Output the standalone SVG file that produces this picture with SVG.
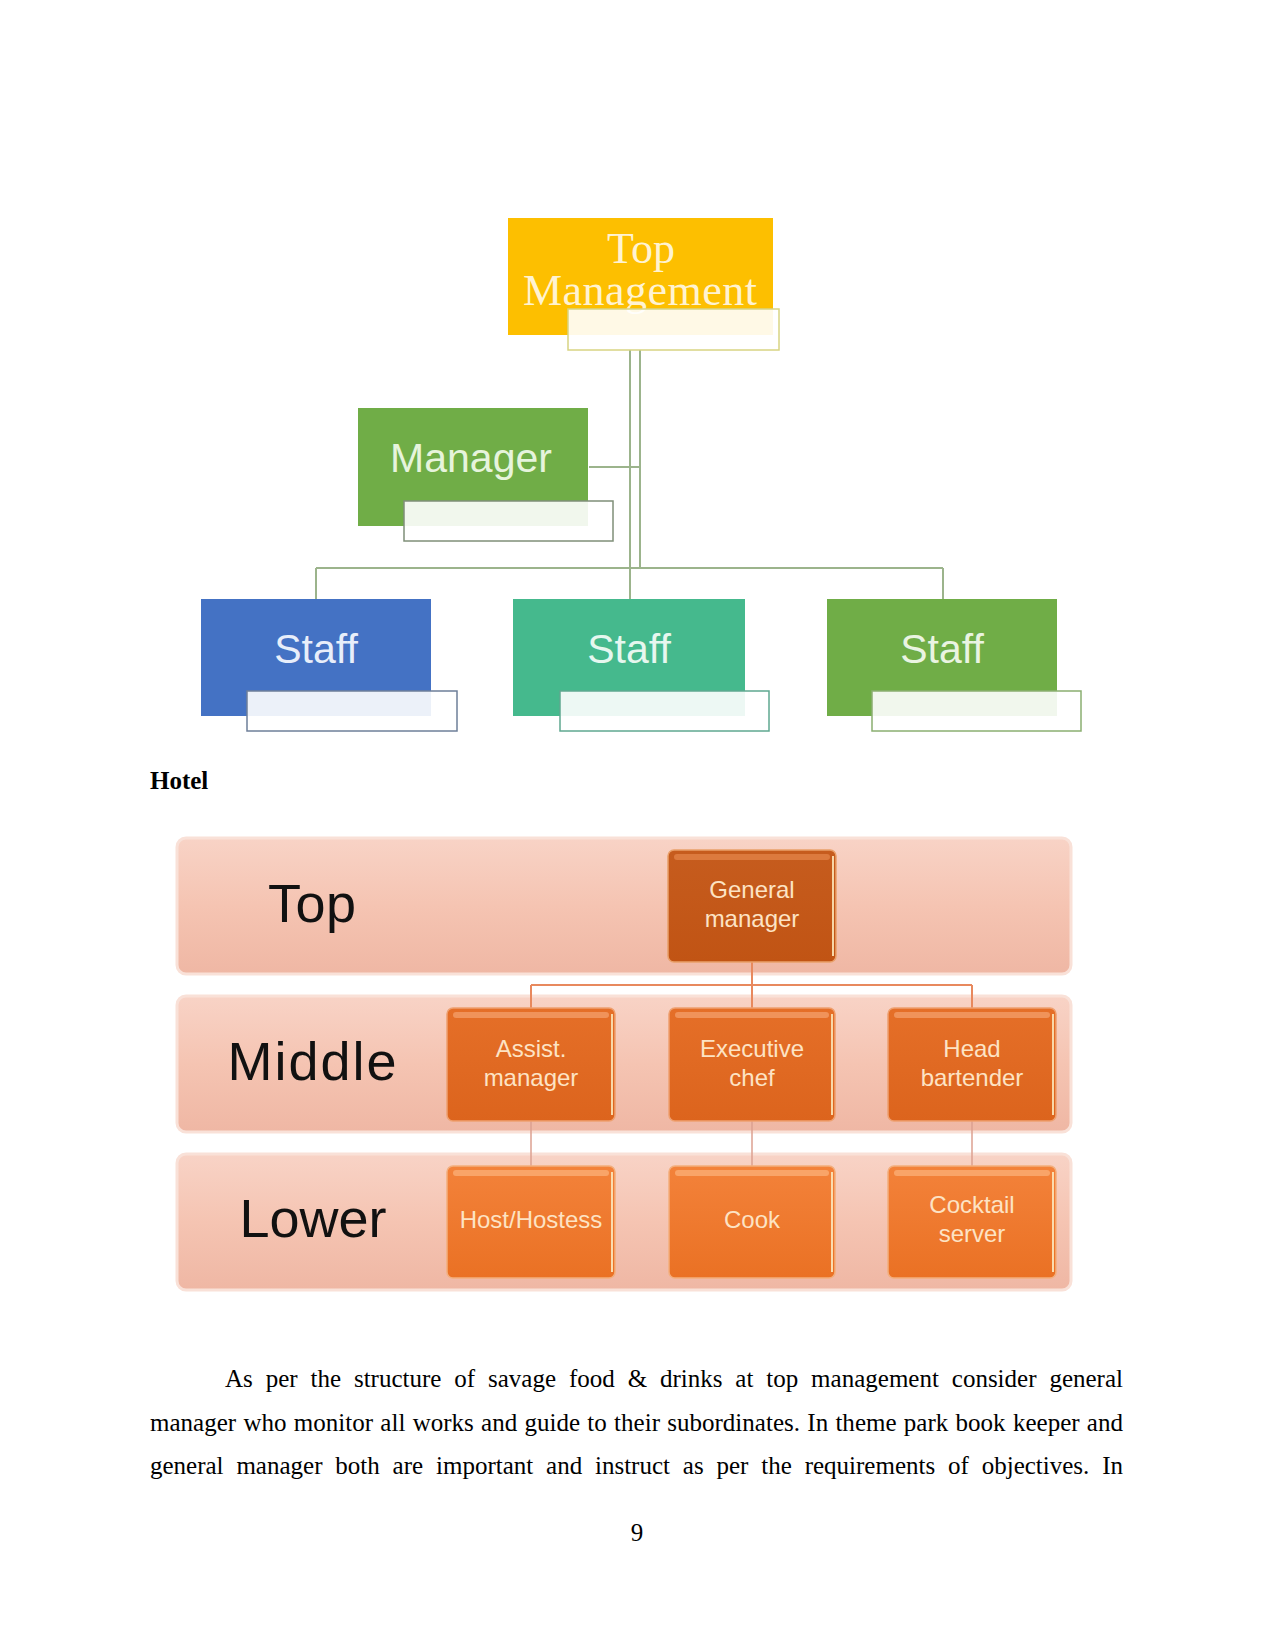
<svg xmlns="http://www.w3.org/2000/svg" width="1275" height="1650" viewBox="0 0 1275 1650">
<style>
.conn{stroke:#9cb48c;stroke-width:2;fill:none}
.hconn{stroke:#e8895e;stroke-width:2;fill:none}
.hconn2{stroke:#dca090;stroke-width:1.5;fill:none}
.ov{fill:#ffffff;fill-opacity:0.9;stroke-width:1.5}
.lbl{font-family:"Liberation Sans",Arial,sans-serif;text-anchor:middle}
.serif{font-family:"Liberation Serif","Times New Roman",serif}
.ob{font-family:"Liberation Sans",Arial,sans-serif;font-size:24px;fill:#fde3c4;text-anchor:middle}
.lvl{font-family:"Liberation Sans",Arial,sans-serif;font-size:54px;fill:#111111;text-anchor:middle}
.body{font-family:"Liberation Serif","Times New Roman",serif;font-size:25px;fill:#000000}
</style>
<defs>
<linearGradient id="band" x1="0" y1="0" x2="0" y2="1">
<stop offset="0" stop-color="#f8d3c6"/>
<stop offset="0.5" stop-color="#f5c4b2"/>
<stop offset="1" stop-color="#efb7a4"/>
</linearGradient>
<linearGradient id="gmg" x1="0" y1="0" x2="0" y2="1">
<stop offset="0" stop-color="#c65c1e"/>
<stop offset="1" stop-color="#c15414"/>
</linearGradient>
<linearGradient id="midg" x1="0" y1="0" x2="0" y2="1">
<stop offset="0" stop-color="#e56f28"/>
<stop offset="1" stop-color="#dc641d"/>
</linearGradient>
<linearGradient id="lowg" x1="0" y1="0" x2="0" y2="1">
<stop offset="0" stop-color="#f3823a"/>
<stop offset="1" stop-color="#ea7124"/>
</linearGradient>
</defs>
<rect width="1275" height="1650" fill="#ffffff"/>

<!-- Top chart connectors -->
<g id="connectors-top">
<line class="conn" x1="630" y1="350" x2="630" y2="599"/>
<line class="conn" x1="640" y1="350" x2="640" y2="568"/>
<line class="conn" x1="589" y1="467" x2="640" y2="467"/>
<line class="conn" x1="316" y1="568" x2="943" y2="568"/>
<line class="conn" x1="316" y1="568" x2="316" y2="599"/>
<line class="conn" x1="943" y1="568" x2="943" y2="599"/>
</g>

<g id="top-management">
<rect x="508" y="218" width="265" height="117" fill="#fdbf00"/>
<text class="serif" fill="#fff3d2" text-anchor="middle"><tspan x="641" y="263" font-size="44">Top</tspan><tspan x="640" y="305" font-size="44" textLength="234">Management</tspan></text>
<rect class="ov" x="568" y="309" width="211" height="41" stroke="#d8d482"/>
</g>

<g id="manager">
<rect x="358" y="408" width="230" height="118" fill="#70ad47"/>
<text class="lbl" x="471" y="472" font-size="41" fill="#e6f4dc">Manager</text>
<rect class="ov" x="404" y="501" width="209" height="40" stroke="#7f8f78"/>
</g>

<g id="staff-1">
<rect x="201" y="599" width="230" height="117" fill="#4472c4"/>
<text class="lbl" x="316" y="663" font-size="41" fill="#e8eefa">Staff</text>
<rect class="ov" x="247" y="691" width="210" height="40" stroke="#6e7f99"/>
</g>

<g id="staff-2">
<rect x="513" y="599" width="232" height="117" fill="#45b98d"/>
<text class="lbl" x="629" y="663" font-size="41" fill="#e6f7ef">Staff</text>
<rect class="ov" x="560" y="691" width="209" height="40" stroke="#5fa890"/>
</g>

<g id="staff-3">
<rect x="827" y="599" width="230" height="117" fill="#70ad47"/>
<text class="lbl" x="942" y="663" font-size="41" fill="#eaf4e2">Staff</text>
<rect class="ov" x="872" y="691" width="209" height="40" stroke="#8aaf70"/>
</g>

<text id="hotel-label" class="serif" x="150" y="789" font-size="25" font-weight="bold" fill="#000000">Hotel</text>

<!-- Hotel bands -->
<g id="band-top">
<rect x="177" y="838" width="894" height="136" rx="9" fill="url(#band)" stroke="#f9e1d8" stroke-width="3"/>
<text class="lvl" x="312" y="922" textLength="88">Top</text>
</g>
<g id="band-middle">
<rect x="177" y="996" width="894" height="136" rx="9" fill="url(#band)" stroke="#f9e1d8" stroke-width="3"/>
<text class="lvl" x="312" y="1080" textLength="169">Middle</text>
</g>
<g id="band-lower">
<rect x="177" y="1154" width="894" height="136" rx="9" fill="url(#band)" stroke="#f9e1d8" stroke-width="3"/>
<text class="lvl" x="313" y="1237" textLength="147">Lower</text>
</g>

<!-- Hotel connectors -->
<g id="connectors-hotel">
<line class="hconn" x1="752" y1="962" x2="752" y2="1008"/>
<line class="hconn" x1="531" y1="985" x2="972" y2="985"/>
<line class="hconn" x1="531" y1="985" x2="531" y2="1008"/>
<line class="hconn" x1="972" y1="985" x2="972" y2="1008"/>
<line class="hconn2" x1="531" y1="1121" x2="531" y2="1166"/>
<line class="hconn2" x1="752" y1="1121" x2="752" y2="1166"/>
<line class="hconn2" x1="972" y1="1121" x2="972" y2="1166"/>
</g>

<g id="general-manager">
<rect x="668" y="850" width="168" height="112" rx="6" fill="url(#gmg)" stroke="#e9a06a" stroke-width="1.5"/>
<rect x="674" y="854" width="156" height="6" rx="3" fill="#dc7a3e"/>
<line x1="833" y1="856" x2="833" y2="956" stroke="#f7d6a6" stroke-width="2"/>
<text class="ob" x="752" y="898">General</text>
<text class="ob" x="752" y="927">manager</text>
</g>

<g id="assist-manager">
<rect x="447" y="1008" width="168" height="113" rx="6" fill="url(#midg)" stroke="#eea070" stroke-width="1.5"/>
<rect x="453" y="1012" width="156" height="6" rx="3" fill="#f0935a"/>
<line x1="612" y1="1014" x2="612" y2="1115" stroke="#f9d8a8" stroke-width="2"/>
<text class="ob" x="531" y="1057">Assist.</text>
<text class="ob" x="531" y="1086">manager</text>
</g>

<g id="executive-chef">
<rect x="669" y="1008" width="166" height="113" rx="6" fill="url(#midg)" stroke="#eea070" stroke-width="1.5"/>
<rect x="675" y="1012" width="154" height="6" rx="3" fill="#f0935a"/>
<line x1="832" y1="1014" x2="832" y2="1115" stroke="#f9d8a8" stroke-width="2"/>
<text class="ob" x="752" y="1057">Executive</text>
<text class="ob" x="752" y="1086">chef</text>
</g>

<g id="head-bartender">
<rect x="888" y="1008" width="168" height="113" rx="6" fill="url(#midg)" stroke="#eea070" stroke-width="1.5"/>
<rect x="894" y="1012" width="156" height="6" rx="3" fill="#f0935a"/>
<line x1="1053" y1="1014" x2="1053" y2="1115" stroke="#f9d8a8" stroke-width="2"/>
<text class="ob" x="972" y="1057">Head</text>
<text class="ob" x="972" y="1086">bartender</text>
</g>

<g id="host-hostess">
<rect x="447" y="1166" width="168" height="112" rx="6" fill="url(#lowg)" stroke="#f3ae7c" stroke-width="1.5"/>
<rect x="453" y="1170" width="156" height="6" rx="3" fill="#f9a468"/>
<line x1="612" y1="1172" x2="612" y2="1272" stroke="#fbdcae" stroke-width="2"/>
<text class="ob" x="531" y="1228">Host/Hostess</text>
</g>

<g id="cook">
<rect x="669" y="1166" width="166" height="112" rx="6" fill="url(#lowg)" stroke="#f3ae7c" stroke-width="1.5"/>
<rect x="675" y="1170" width="154" height="6" rx="3" fill="#f9a468"/>
<line x1="832" y1="1172" x2="832" y2="1272" stroke="#fbdcae" stroke-width="2"/>
<text class="ob" x="752" y="1228">Cook</text>
</g>

<g id="cocktail-server">
<rect x="888" y="1166" width="168" height="112" rx="6" fill="url(#lowg)" stroke="#f3ae7c" stroke-width="1.5"/>
<rect x="894" y="1170" width="156" height="6" rx="3" fill="#f9a468"/>
<line x1="1053" y1="1172" x2="1053" y2="1272" stroke="#fbdcae" stroke-width="2"/>
<text class="ob" x="972" y="1213">Cocktail</text>
<text class="ob" x="972" y="1242">server</text>
</g>

<g id="body-text">
<text class="body" x="225" y="1387" word-spacing="6.6" textLength="898" lengthAdjust="spacing">As per the structure of savage food &amp; drinks at top management consider general</text>
<text class="body" x="150" y="1431" word-spacing="1" textLength="973" lengthAdjust="spacing">manager who monitor all works and guide to their subordinates. In theme park book keeper and</text>
<text class="body" x="150" y="1474" word-spacing="6.6" textLength="973" lengthAdjust="spacing">general manager both are important and instruct as per the requirements of objectives. In</text>
<text class="body" x="637" y="1541" text-anchor="middle">9</text>
</g>
</svg>
